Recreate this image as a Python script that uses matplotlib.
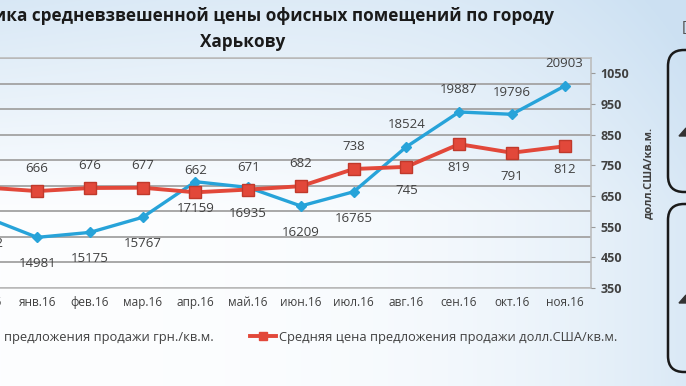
import numpy as np
import matplotlib
matplotlib.use("Agg")
import matplotlib.pyplot as plt
from matplotlib.lines import Line2D
from matplotlib.patches import FancyBboxPatch, Polygon

# данные
months = ["дек.15", "янв.16", "фев.16", "мар.16", "апр.16", "май.16",
          "июн.16", "июл.16", "авг.16", "сен.16", "окт.16", "ноя.16"]
price_uah = [15792, 14981, 15175, 15767, 17159, 16935, 16209, 16765, 18524, 19887, 19796, 20903]
price_usd = [678, 666, 676, 677, 662, 671, 682, 738, 745, 819, 791, 812]

# где ставить подписи (стиль, не данные)
uah_up = [False] * 8 + [True] * 4
usd_up = [True] * 8 + [False] * 4

blue = "#27a3d9"
red = "#e2483a"
txt = "#404040"

plt.rcParams['font.family'] = ['Open Sans', 'DejaVu Sans']

fig = plt.figure(figsize=(6.86, 3.86), dpi=100)

# фон с градиентом
bg = fig.add_axes([0, 0, 1, 1], zorder=-5)
W, H = 686, 386
xx, yy = np.meshgrid(np.linspace(0, 1, W), np.linspace(0, 1, H))
t = 0.75 * np.clip(1 - yy / 0.55, 0, 1) * (1 - 0.5 * xx) + 0.7 * xx ** 3
t = np.clip(t, 0, 1)[..., None]
c_blue = np.array([0.80, 0.88, 0.95])
img = (1 - t) * np.array([0.99, 0.995, 1.0]) + t * c_blue
bg.imshow(img, extent=(0, W, H, 0), aspect='auto')
bg.set_xlim(0, W)
bg.set_ylim(H, 0)
bg.axis('off')

# рамки справа
for y0, y1 in [(50, 192), (204, 372)]:
    bg.add_patch(FancyBboxPatch((668, y0), 60, y1 - y0,
                                boxstyle="round,pad=0,rounding_size=16",
                                fill=False, ec="#1a1a1a", lw=1.8))
for yc in [133, 300]:
    bg.add_patch(Polygon([[679, yc + 3], [686, yc - 5], [686, yc + 3]], color="#333333"))
bg.text(682, 28, "[", fontsize=11, color="#555555", va='center')

# основная ось
ax = fig.add_axes([-0.0612, 0.2539, 0.9227, 0.5959])
ax.set_facecolor('none')
x = np.arange(len(months))
ax.set_xlim(-0.5, len(months) - 0.5)
ax.set_ylim(13000, 22000)
ax.set_yticks(np.arange(13000, 22001, 1000))
ax.yaxis.grid(True, color="#a8a8a8", lw=1.4)
ax.set_axisbelow(True)
ax.tick_params(axis='y', left=False, labelleft=False)
ax.set_xticks(x)
ax.set_xticklabels(months, fontsize=8.5, color=txt)
ax.tick_params(axis='x', length=0, pad=6)
for s in ax.spines.values():
    s.set_color("#bdbdbd")
    s.set_linewidth(1.2)

ax.plot(x, price_uah, color=blue, lw=2.4, marker='D', ms=5.5, mfc=blue, mec=blue, zorder=3)
for xi, v, up in zip(x, price_uah, uah_up):
    ax.annotate(str(v), (xi, v), xytext=(0, 16 if up else -19), textcoords='offset points',
                ha='center', va='center', fontsize=9.5, color=txt)

ax2 = ax.twinx()
ax2.set_ylim(350, 1100)
ax2.set_yticks(np.arange(350, 1051, 100))
ax2.tick_params(axis='y', length=3, color="#999999", labelsize=9, labelcolor=txt, pad=4)
for lab in ax2.get_yticklabels():
    lab.set_fontweight('bold')
for s in ax2.spines.values():
    s.set_visible(False)
ax2.set_ylabel("долл.США/кв.м.", fontsize=8, fontweight='bold', color=txt, labelpad=10)

ax2.plot(x, price_usd, color=red, lw=2.8, marker='s', ms=8, mfc=red, mec="#c0392b", zorder=3)
for xi, v, up in zip(x, price_usd, usd_up):
    ax2.annotate(str(v), (xi, v), xytext=(0, 16 if up else -17), textcoords='offset points',
                 ha='center', va='center', fontsize=9.5, color=txt)

# заголовок
fig.text(243 / W, 1 - 16 / H, "Динамика средневзвешенной цены офисных помещений по городу",
         ha='center', va='center', fontsize=12.3, fontweight='bold', color="#1a1a1a")
fig.text(243 / W, 1 - 42 / H, "Харькову",
         ha='center', va='center', fontsize=12.3, fontweight='bold', color="#1a1a1a")

# легенда
handles = [Line2D([], [], color=blue, lw=2.4, marker='D', ms=5),
           Line2D([], [], color=red, lw=2.8, marker='s', ms=6)]
labels = ["Средняя цена предложения продажи грн./кв.м.",
          "Средняя цена предложения продажи долл.США/кв.м."]
fig.legend(handles, labels, loc='center', bbox_to_anchor=(251 / W, 1 - 337 / H), ncol=2,
           frameon=False, fontsize=9.3, labelcolor=txt, handlelength=2.0,
           handletextpad=0.2, columnspacing=2.8)

fig.savefig("out.png", dpi=100)
